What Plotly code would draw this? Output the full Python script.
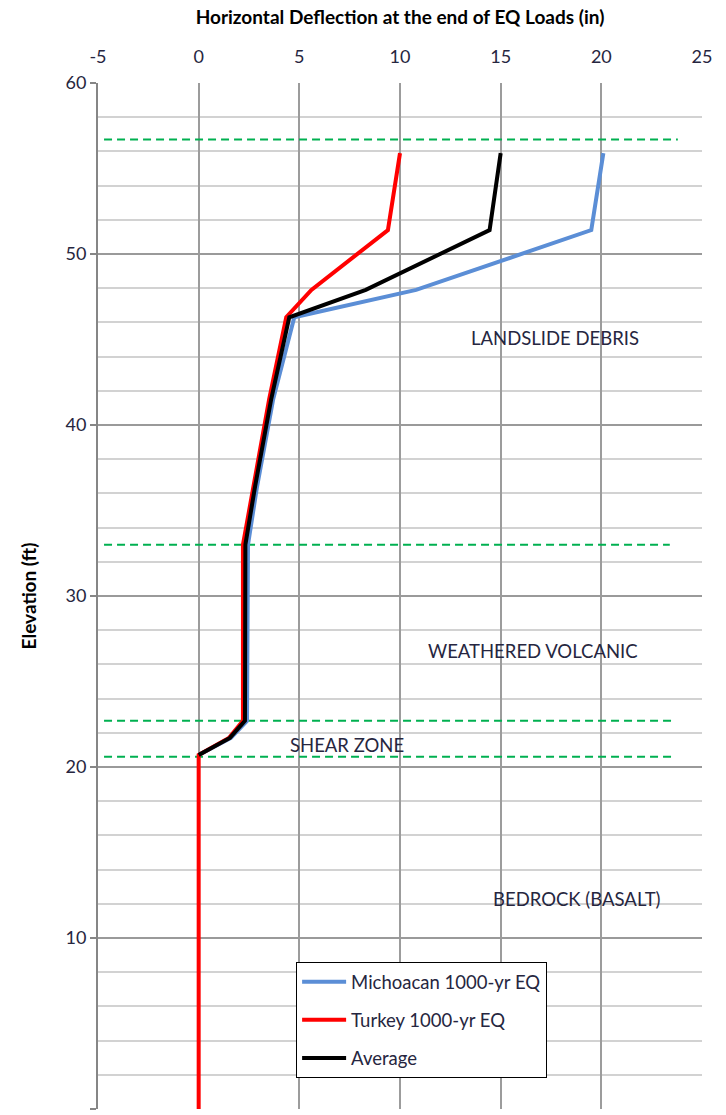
import plotly.graph_objects as go

# ---- data ----
elev_mich = [20.7, 21.7, 22.7, 33.0, 36.4, 41.5, 46.3, 47.9, 51.4, 55.9]
defl_mich = [0.0, 1.6, 2.4, 2.45, 2.9, 3.7, 4.75, 10.8, 19.5, 20.1]

elev_turkey = [0.0, 20.7, 21.7, 22.7, 33.0, 36.4, 41.5, 46.3, 47.9, 51.4, 55.9]
defl_turkey = [0.0, 0.0, 1.5, 2.2, 2.2, 2.7, 3.5, 4.35, 5.6, 9.4, 10.0]

elev_avg = [20.7, 21.7, 22.7, 33.0, 36.4, 41.5, 46.3, 47.9, 51.4, 55.9]
defl_avg = [0.0, 1.55, 2.3, 2.32, 2.8, 3.6, 4.5, 8.3, 14.45, 15.0]

boundary_elev = [56.7, 33.0, 22.7, 20.6]
boundary_x0 = [-4.7, -4.7, -4.7, -4.7]
boundary_x1 = [23.8, 23.4, 23.7, 23.7]

layer_labels = ["LANDSLIDE DEBRIS", "WEATHERED VOLCANIC", "SHEAR ZONE", "BEDROCK (BASALT)"]
layer_x = [17.7, 16.6, 7.35, 18.8]
layer_y = [45.1, 26.8, 21.3, 12.3]

x_ticks = [-5, 0, 5, 10, 15, 20, 25]
x_tick_text = ["-5", "0", "5", "10", "15", "20", "25"]
y_ticks = [0, 10, 20, 30, 40, 50, 60]

FONT = "Lato"
TXT = "#262640"

fig = go.Figure()

for e, a, b in zip(boundary_elev, boundary_x0, boundary_x1):
    fig.add_trace(go.Scatter(x=[a, b], y=[e, e], mode="lines",
                             line=dict(color="#00B050", width=2, dash="8px,5px"),
                             showlegend=False, hoverinfo="skip"))

fig.add_trace(go.Scatter(x=defl_mich, y=elev_mich, mode="lines",
                         name="Michoacan 1000-yr EQ", legendgroup="a",
                         line=dict(color="#5B8ED6", width=4)))
fig.add_trace(go.Scatter(x=defl_turkey, y=elev_turkey, mode="lines",
                         name="Turkey 1000-yr EQ", legendgroup="b",
                         line=dict(color="#FF0000", width=4)))
fig.add_trace(go.Scatter(x=defl_avg, y=elev_avg, mode="lines",
                         name="Average", legendgroup="c",
                         line=dict(color="#000000", width=4)))

for t, x, y in zip(layer_labels, layer_x, layer_y):
    fig.add_annotation(x=x, y=y, text=t, showarrow=False,
                       font=dict(family=FONT, size=18.5, color=TXT))

fig.update_layout(
    width=726, height=1115,
    margin=dict(l=98, r=24, t=83, b=6),
    plot_bgcolor="white", paper_bgcolor="white",
    font=dict(family=FONT, size=18, color=TXT),
    legend=dict(x=0.328, y=0.143, xanchor="left", yanchor="top",
                bordercolor="#000000", borderwidth=1, bgcolor="white",
                font=dict(family=FONT, size=18.5, color=TXT),
                itemwidth=44,
                traceorder="grouped", tracegroupgap=11),
    xaxis=dict(range=[-5, 25], side="top", tickvals=x_ticks, ticktext=x_tick_text,
               automargin=False,
               showgrid=True, gridcolor="#9C9C9C", gridwidth=1.6,
               zeroline=False, showline=False,
               ticks="outside", ticklen=12, tickcolor="rgba(0,0,0,0)",
               tickfont=dict(family=FONT, size=18, color=TXT),
               title=dict(text="<b>Horizontal Deflection at the end of EQ Loads (in)</b>",
                          font=dict(family=FONT, size=19, color="#000000"), standoff=15)),
    yaxis=dict(range=[0, 60], tickvals=y_ticks, automargin=False,
               showgrid=True, gridcolor="#9A9A9A", gridwidth=1.6,
               minor=dict(dtick=2, showgrid=True, gridcolor="#D2D2D2", gridwidth=1.6),
               zeroline=False, showline=True, linecolor="#868686", linewidth=2,
               ticks="outside", ticklen=6, tickcolor="#868686", tickwidth=2,
               tickfont=dict(family=FONT, size=18, color=TXT),
               title=dict(text="<b>Elevation (ft)</b>",
                          font=dict(family=FONT, size=19, color="#000000"), standoff=24)),
)

fig.write_html("out.html", config={"displayModeBar": False},
               post_script="document.body.style.margin='0px';")
